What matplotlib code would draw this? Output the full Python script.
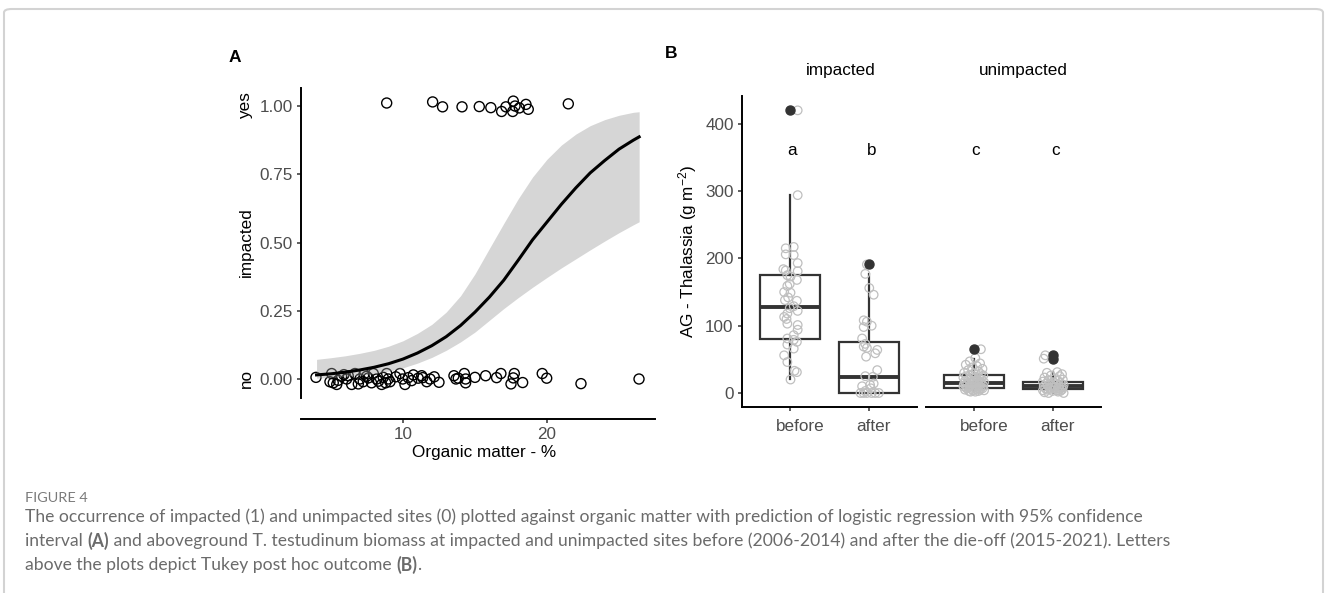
import matplotlib
matplotlib.use("Agg")
import matplotlib.pyplot as plt
from matplotlib.patches import FancyBboxPatch
from matplotlib.transforms import ScaledTranslation

W, H = 1328, 593
plt.rcParams['font.family'] = ['Liberation Sans', 'DejaVu Sans']
plt.rcParams['mathtext.fontset'] = 'custom'
plt.rcParams['mathtext.rm'] = 'Liberation Sans'
plt.rcParams['mathtext.it'] = 'Liberation Sans:italic'

## ----------------- PANEL A DATA -----------------------
# sites that were impacted (jittered around 1)
om_yes = [8.87, 12.06, 12.75, 14.1, 15.3, 16.1, 16.85, 17.15, 17.66, 17.78, 17.62, 18.08, 18.54, 18.7, 21.48]
imp_yes = [1.011, 1.015, 0.997, 0.997, 0.998, 0.994, 0.98, 0.997, 1.018, 1.0, 0.98, 0.993, 1.006, 0.988, 1.008]

# sites that were not impacted (jittered around 0)
om_no = [3.96, 5.05, 4.93, 5.16, 5.4, 5.74, 6.09, 6.44, 6.67, 7.01,
         7.24, 7.48, 7.82, 7.94, 8.17, 8.52, 8.63, 8.98, 8.87, 9.1,
         9.79, 9.98, 10.14, 10.37, 10.72, 11.06, 11.3, 11.37, 11.65, 11.88,
         12.17, 12.5, 13.54, 13.68, 13.84, 14.26, 14.35, 14.35, 15.0, 15.74,
         16.5, 16.8, 17.5, 17.73, 17.66, 18.31, 19.67, 19.98, 22.36, 26.39,
         5.5, 6.2, 6.9, 7.6, 8.3, 5.9, 7.3, 8.8, 9.5, 10.6]
imp_no = [0.006, 0.02, -0.01, -0.014, -0.02, 0.01, 0.0, -0.02, 0.02, 0.0,
          -0.01, 0.01, -0.014, 0.02, 0.0, -0.02, 0.006, 0.0, 0.02, -0.01,
          0.02, 0.0, -0.02, 0.005, 0.015, 0.003, 0.012, 0.005, -0.01, 0.0,
          0.008, -0.012, 0.012, 0.0, 0.003, 0.02, 0.0, -0.014, 0.006, 0.012,
          0.005, 0.02, -0.018, 0.02, 0.004, -0.013, 0.02, 0.003, -0.017, 0.0,
          -0.005, 0.012, -0.018, 0.004, -0.008, 0.016, 0.018, -0.014, 0.008, -0.006]

# logistic regression prediction with 95% CI
fit_x = [4, 5, 6, 7, 8, 9, 10, 11, 12, 13, 14, 15, 16, 17, 18, 19, 20, 21, 22, 23, 24, 25, 26, 26.4]
fit_p = [0.015, 0.019, 0.025, 0.033, 0.043, 0.056, 0.073, 0.095, 0.122, 0.155, 0.196, 0.245,
         0.300, 0.362, 0.435, 0.510, 0.575, 0.640, 0.700, 0.755, 0.800, 0.842, 0.875, 0.887]
fit_hi = [0.072, 0.078, 0.085, 0.094, 0.105, 0.120, 0.140, 0.167, 0.200, 0.245, 0.305, 0.385,
          0.478, 0.570, 0.660, 0.740, 0.805, 0.857, 0.897, 0.928, 0.950, 0.966, 0.977, 0.979]
fit_lo = [0.003, 0.006, 0.010, 0.014, 0.020, 0.029, 0.041, 0.058, 0.079, 0.105, 0.136, 0.172,
          0.215, 0.258, 0.298, 0.336, 0.372, 0.407, 0.440, 0.473, 0.505, 0.536, 0.565, 0.576]

## ----------------- PANEL B DATA -----------------------
groups = ['impacted', 'unimpacted']
periods = ['before', 'after']
tukey = [['a', 'b'], ['c', 'c']]

# box statistics [group][period]
box_med = [[128, 24], [15, 10]]
box_q1 = [[80, 0], [8, 6]]
box_q3 = [[175, 76], [27, 16]]
box_lo = [[21, 0], [2, 0]]
box_hi = [[294, 177], [50, 31]]
box_out = [[[420], [191]], [[65], [56, 51]]]

# raw (jittered) biomass observations
imp_before = [420, 294, 217, 215, 206, 205, 193, 184, 182, 181,
              175, 173, 168, 162, 159, 150, 149, 142, 138, 137,
              129, 126, 122, 118, 113, 110, 103, 101, 94, 86,
              81, 79, 76, 72, 66, 56, 46, 33, 31, 20]
imp_before_dx = [0.10, 0.10, 0.05, -0.05, -0.05, 0.05, 0.10, -0.08, -0.05, 0.10,
                 -0.03, 0.01, 0.09, 0.00, -0.03, -0.07, 0.01, -0.02, -0.06, 0.09,
                 0.05, 0.00, 0.10, -0.03, -0.07, -0.04, -0.03, 0.10, 0.10, 0.05,
                 -0.03, 0.05, 0.09, -0.03, 0.05, -0.07, -0.03, 0.06, 0.09, 0.01]
imp_after = [191, 177, 156, 146, 108, 106, 100, 98, 81, 73,
             69, 67, 64, 59, 54, 34, 25, 24, 14, 12,
             10, 0, 0, 0, 0, 0, 0, 7, 3]
imp_after_dx = [-0.03, -0.05, 0.00, 0.055, -0.07, -0.03, 0.03, -0.07, -0.09, -0.05,
                -0.07, -0.03, 0.10, 0.075, -0.04, 0.10, -0.05, 0.045, 0.055, 0.01,
                -0.09, -0.11, -0.07, -0.03, 0.03, 0.075, 0.12, 0.02, -0.05]
unimp_before = [65, 52, 47, 44, 42, 40, 38, 36, 34, 32,
                30, 29, 28, 27, 26, 25, 24, 23, 22, 21,
                20, 20, 19, 18, 18, 17, 16, 16, 15, 15,
                14, 14, 13, 13, 12, 12, 11, 11, 10, 10,
                9, 9, 8, 8, 7, 7, 6, 6, 5, 5,
                4, 4, 3, 3, 2, 2]
unimp_before_dx = [0.09, 0.02, -0.05, 0.08, -0.10, 0.04, -0.02, 0.11, -0.07, 0.06,
                   -0.12, 0.00, 0.09, -0.04, 0.12, -0.09, 0.03, -0.13, 0.07, -0.01,
                   0.10, -0.06, 0.05, -0.11, 0.01, 0.08, -0.03, 0.13, -0.08, 0.04,
                   -0.12, 0.10, -0.02, 0.06, -0.10, 0.02, 0.12, -0.05, 0.07, -0.13,
                   0.00, 0.09, -0.07, 0.05, -0.09, 0.11, -0.03, 0.03, -0.11, 0.08,
                   -0.01, 0.13, -0.06, 0.06, -0.04, 0.02]
unimp_after = [56, 51, 31, 30, 28, 26, 25, 23, 21, 20,
               19, 18, 17, 16, 15, 14, 13, 12, 12, 11,
               10, 10, 9, 9, 8, 8, 7, 7, 6, 6,
               5, 5, 4, 4, 3, 3, 2, 1, 0, 0]
unimp_after_dx = [-0.10, -0.12, 0.05, -0.08, 0.11, -0.03, 0.08, -0.11, 0.02, 0.12,
                  -0.06, 0.06, -0.13, 0.00, 0.09, -0.09, 0.04, -0.02, 0.13, -0.07,
                  0.07, -0.12, 0.03, 0.10, -0.05, 0.12, -0.10, 0.01, 0.08, -0.04,
                  0.11, -0.08, 0.05, -0.13, 0.09, -0.01, 0.06, -0.11, 0.13, -0.06]

raw_vals = [[imp_before, imp_after], [unimp_before, unimp_after]]
raw_dx = [[imp_before_dx, imp_after_dx], [unimp_before_dx, unimp_after_dx]]

## ----------------- STYLE -----------------------
TICK_COL = '#4d4d4d'
LINE_COL = '#333333'
FS = 12.3


def px_box(l, t, r, b):
    return [l / W, 1 - b / H, (r - l) / W, (b - t) / H]


def style_axis(ax):
    for s in ['top', 'right']:
        ax.spines[s].set_visible(False)
    for s in ['left', 'bottom']:
        ax.spines[s].set_linewidth(1.4)
        ax.spines[s].set_color('black')
    ax.tick_params(direction='out', length=3, width=1.1, color=LINE_COL,
                   labelcolor=TICK_COL, labelsize=FS, pad=3)


fig = plt.figure(figsize=(W / 100, H / 100), dpi=100)

# frame around the figure
frame = FancyBboxPatch((4 / W, -0.05), 1319 / W, 1 - 9 / H + 0.05,
                       boxstyle='round,pad=0,rounding_size=0.006',
                       transform=fig.transFigure, fill=False,
                       edgecolor='#d3d3d3', linewidth=1.5)
fig.patches.append(frame)

## ----------------- PANEL A -----------------------
axA = fig.add_axes(px_box(301, 88, 655, 398))
style_axis(axA)
axA.scatter(om_no + om_yes, imp_no + imp_yes, s=52, facecolors='none',
            edgecolors='black', linewidths=1.0, zorder=2)
axA.fill_between(fit_x, fit_lo, fit_hi, color='#999999', alpha=0.4,
                 linewidth=0, zorder=3)
axA.plot(fit_x, fit_p, color='black', linewidth=2.2, zorder=4)
axA.set_xlim(2.92, 27.5)
axA.set_ylim(-0.0696, 1.066)
axA.spines['bottom'].set_position(('outward', 15))
axA.set_xticks([10, 20])
axA.set_yticks([0, 0.25, 0.5, 0.75, 1.0])
axA.set_yticklabels(['0.00', '0.25', '0.50', '0.75', '1.00'])

fig.text(235 / W, 1 - 57 / H, 'A', fontsize=12.5, weight='bold', ha='center', va='center')
fig.text(484 / W, 1 - 452 / H, 'Organic matter - %', fontsize=FS, ha='center', va='center')
fig.text(246 / W, 1 - 242 / H, 'impacted', fontsize=FS, rotation=90, ha='center', va='center')
fig.text(246 / W, 1 - 106 / H, 'yes', fontsize=FS, rotation=90, ha='center', va='center')
fig.text(246 / W, 1 - 379 / H, 'no', fontsize=FS, rotation=90, ha='center', va='center')

## ----------------- PANEL B -----------------------
facet_px = [(742, 917), (926, 1101)]
strip_x = [841, 1023]
pos = [1, 2]
for g, (l, r) in enumerate(facet_px):
    ax = fig.add_axes(px_box(l, 96, r, 407))
    style_axis(ax)
    stats = []
    for k in range(2):
        stats.append(dict(med=box_med[g][k], q1=box_q1[g][k], q3=box_q3[g][k],
                          whislo=box_lo[g][k], whishi=box_hi[g][k],
                          fliers=box_out[g][k]))
    ax.bxp(stats, positions=pos, widths=0.75, showcaps=False, patch_artist=True,
           boxprops=dict(facecolor='white', edgecolor=LINE_COL, linewidth=1.6),
           medianprops=dict(color=LINE_COL, linewidth=2.8, solid_capstyle='butt'),
           whiskerprops=dict(color=LINE_COL, linewidth=1.6),
           flierprops=dict(marker='o', markerfacecolor=LINE_COL,
                           markeredgecolor=LINE_COL, markersize=6.5, zorder=5))
    for k in range(2):
        xs = [pos[k] + d for d in raw_dx[g][k]]
        ax.scatter(xs, raw_vals[g][k], s=38, facecolors='none',
                   edgecolors='#bfbfbf', linewidths=0.9, zorder=4)
        ax.text(pos[k], 360, tukey[g][k], fontsize=FS, ha='center', va='center',
                transform=ax.transData + ScaledTranslation(2 / 100, 0, fig.dpi_scale_trans))
    ax.set_xlim(0.4, 2.6)
    ax.set_ylim(-20.8, 441.3)
    ax.set_xticks(pos)
    ax.set_xticklabels(periods, ha='left')
    shift = ScaledTranslation(-13.5 / 100, -4 / 100, fig.dpi_scale_trans)
    for lab in ax.get_xticklabels():
        lab.set_transform(lab.get_transform() + shift)
    if g == 0:
        ax.set_yticks([0, 100, 200, 300, 400])
    else:
        ax.spines['left'].set_visible(False)
        ax.set_yticks([])
    fig.text(strip_x[g] / W, 1 - 71 / H, groups[g], fontsize=FS, ha='center', va='center')

fig.text(671 / W, 1 - 54 / H, 'B', fontsize=12.5, weight='bold', ha='center', va='center')
fig.text(688 / W, 1 - 251 / H, 'AG - Thalassia (g m$^{-2}$)', fontsize=FS,
         rotation=90, ha='center', va='center')

## ----------------- CAPTION -----------------------
CAP_FONT = ['Lato', 'DejaVu Sans']
CAP_COL = '#6b6b6b'
line1 = ('The occurrence of impacted (1) and unimpacted sites (0) plotted against organic '
         'matter with prediction of logistic regression with 95% confidence')
caption = [
    [(line1, False)],
    [('interval ', False), ('(A)', True),
     (' and aboveground T. testudinum biomass at impacted and unimpacted sites before '
      '(2006-2014) and after the die-off (2015-2021). Letters', False)],
    [('above the plots depict Tukey post hoc outcome ', False), ('(B)', True), ('.', False)],
]
caption_y = [517, 541, 565]

renderer = fig.canvas.get_renderer()
probe = fig.text(0, 0, line1, fontsize=10, family=CAP_FONT)
cap_size = 10 * 1120 / probe.get_window_extent(renderer).width
probe.remove()

fig.text(25 / W, 1 - 498 / H, 'FIGURE 4', fontsize=cap_size * 0.82, family=CAP_FONT,
         color='#7a7a7a', ha='left', va='center')
for pieces, y in zip(caption, caption_y):
    x = 25
    for txt, bold in pieces:
        t = fig.text(x / W, 1 - y / H, txt, fontsize=cap_size, family=CAP_FONT,
                     weight='bold' if bold else 'normal', color=CAP_COL,
                     ha='left', va='center')
        x += t.get_window_extent(renderer).width

fig.savefig('out.png', dpi=100)
